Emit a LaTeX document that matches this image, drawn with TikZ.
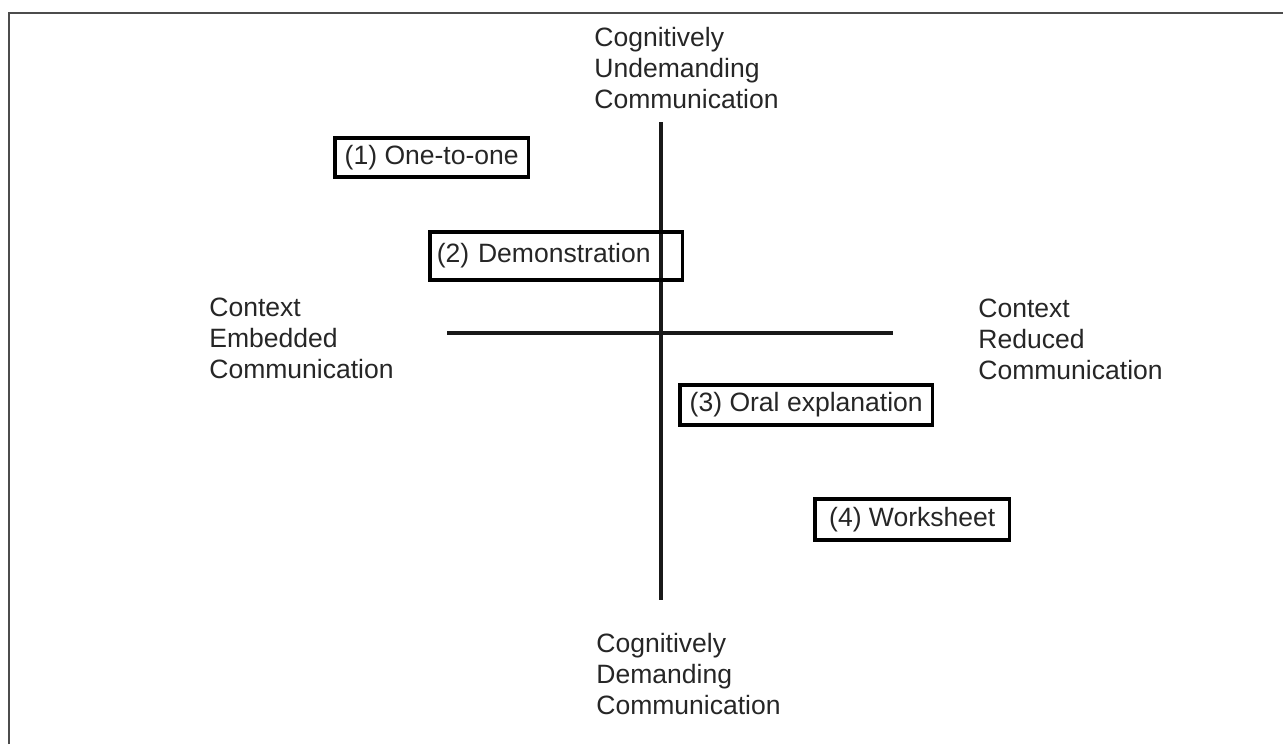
\documentclass[tikz,border=0pt]{standalone}
\usepackage{fontspec}
\setmainfont{Liberation Sans}
\usetikzlibrary{positioning}

\begin{document}
\begin{tikzpicture}[x=0.02cm, y=-0.02cm,
    every node/.style={font=\fontsize{15.1}{17.6}\selectfont, text=black!85},
    mode/.style={draw, line width=2pt, inner sep=0pt, anchor=north west},
    pole/.style={align=left, inner sep=0pt, anchor=north west},
    axis/.style={line width=2pt, black!90}]
    \useasboundingbox (0,0) rectangle (1283,744);

    % Frame
    \coordinate (framebl) at (9,744);
    \coordinate (frametl) at (9,13);
    \coordinate (frametr) at (1283,13);
    \draw[line width=1.1pt, black!70] (framebl) -- (frametl) -- (frametr);

    % Axes
    \coordinate (axtop) at (661,122);
    \coordinate (axbot) at (661,600);
    \coordinate (axleft) at (447,333);
    \coordinate (axright) at (893,333);
    \draw[axis] (axtop) -- (axbot);
    \draw[axis] (axleft) -- (axright);

    % Poles
    \node[pole] (undemanding) at (594,27) {Cognitively\\Undemanding\\Communication};
    \node[pole] (demanding) at (596,633) {Cognitively\\Demanding\\Communication};
    \node[pole] (embedded) at (209,298) {Context\\Embedded\\Communication};
    \node[pole] (reduced) at (978,299) {Context\\Reduced\\Communication};

    % Modes of communication
    \node[mode, minimum width=3.88cm, minimum height=0.78cm] (onetoone) at (333,136) {(1) One-to-one};
    \node[mode, text width=4.78cm, inner xsep=0.14cm, align=left, minimum height=0.96cm] (demo) at (428,230) {(2) Demonstration};
    \node[mode, minimum width=5.06cm, minimum height=0.8cm] (oral) at (678,383) {(3) Oral explanation};
    \node[mode, minimum width=3.9cm, minimum height=0.82cm] (sheet) at (813,497) {(4) Worksheet};
\end{tikzpicture}
\end{document}
